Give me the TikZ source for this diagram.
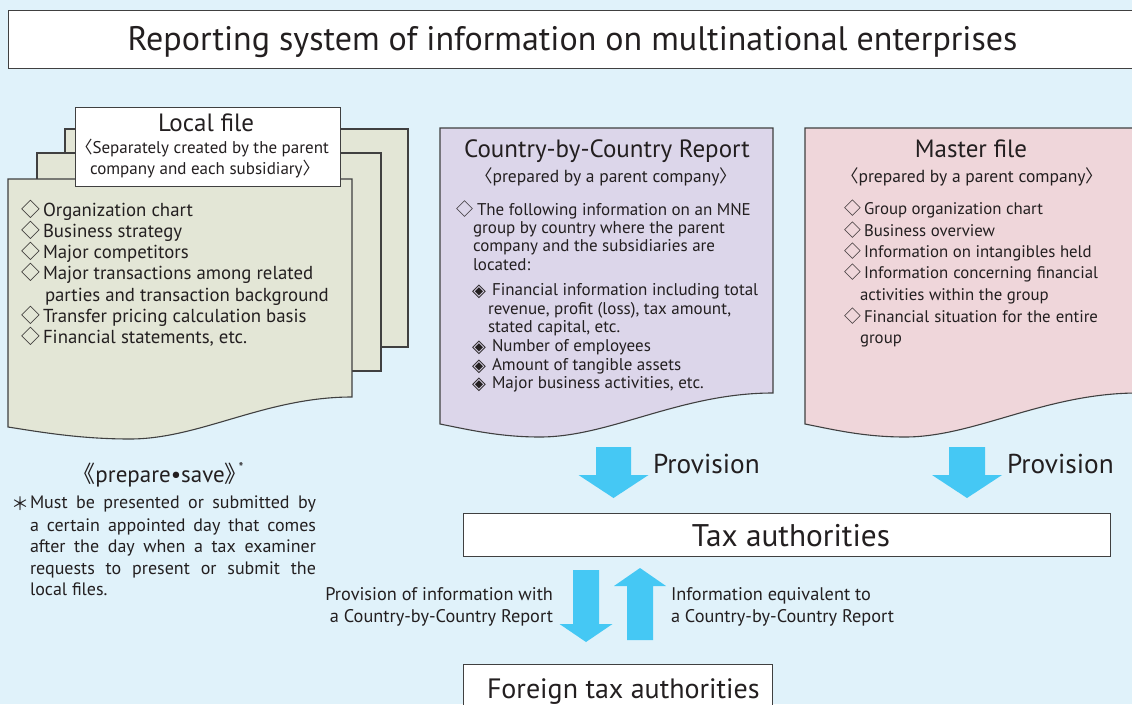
\documentclass[tikz,border=0pt]{standalone}
\usepackage{fontspec}
\setmainfont{PT Sans}
\newfontfamily\cjk{Noto Sans CJK JP}
\newfontfamily\dejavu{DejaVu Sans}
\definecolor{bg}{HTML}{E0F2FA}
\definecolor{lfc}{HTML}{E3E6D6}
\definecolor{cbcc}{HTML}{DCD6EA}
\definecolor{mfc}{HTML}{EFD6DA}
\definecolor{arr}{HTML}{45C8F4}
\definecolor{edge}{HTML}{404040}
\definecolor{txt}{HTML}{231F20}
\newcommand\lbr{\makebox[0.55em][r]{\cjk 〈}}
\newcommand\rbr{\makebox[0.55em][l]{\cjk 〉}}
\newcommand\dia{{\cjk ◇}}
\newcommand\ddia{{\dejavu\fontsize{18}{18}\selectfont ◈}}
\newcommand\blkarrow[7]{% name, cx, start, wing, tip, shafthalf, headhalf
  \fill[arr] (#2-#6,#3) -- (#2+#6,#3) -- (#2+#6,#4) -- (#2+#7,#4) -- (#2,#5) coordinate (#1) -- (#2-#7,#4) -- (#2-#6,#4) -- cycle;}
\tikzset{
  t/.style={inner sep=0pt, outer sep=0pt, anchor=base west, text=txt},
  tc/.style={inner sep=0pt, outer sep=0pt, anchor=base, text=txt},
  tr/.style={inner sep=0pt, outer sep=0pt, anchor=base east, text=txt},
  sheet/.style={draw=edge, line width=1.1pt},
  wbox/.style={draw=edge, line width=1.1pt, fill=white, inner sep=0pt, anchor=north west},
  lfitem/.style={t, font=\fontsize{18.8}{20}\selectfont},
  cbitem/.style={t, font=\fontsize{17}{18}\selectfont},
  mfitem/.style={t, font=\fontsize{16.8}{18}\selectfont},
  head/.style={tc, font=\fontsize{25}{28}\selectfont},
  sub/.style={tc, font=\fontsize{17.5}{19}\selectfont},
  note/.style={t, font=\fontsize{18}{19}\selectfont},
  prov/.style={t, font=\fontsize{27.3}{30}\selectfont},
  small/.style={font=\fontsize{18.3}{19}\selectfont},
}
\begin{document}
\begin{tikzpicture}[x=1pt,y=-1pt]
\useasboundingbox (0,0) rectangle (1132,704);
\clip (0,0) rectangle (1132,704);
\fill[bg] (0,0) rectangle (1132,704);

% title
\node[wbox, minimum width=1140pt, minimum height=58pt] (titlebox) at (8,10) {};
\node[tc, font=\fontsize{34}{38}\selectfont] (title) at (572.5,50) {Reporting system of information on multinational enterprises};

% local file stack
\filldraw[sheet, fill=lfc] (65,129) rectangle (408,347);
\filldraw[sheet, fill=lfc] (37,153) rectangle (381,371);
\filldraw[sheet, fill=lfc] (8,179) -- (352,179) -- (352,397) .. controls (265,397) and (200,439) .. (130,439) .. controls (80,439) and (40,432) .. (8,427) -- cycle;
\node[wbox, minimum width=265pt, minimum height=79pt] (lfbox) at (75,107) {};
\node[head] (lfhead) at (206,131) {Local file};
\node[sub, font=\fontsize{17}{19}\selectfont] (lfsub1) at (206,153) {\lbr Separately created by the parent};
\node[sub, font=\fontsize{17}{19}\selectfont] (lfsub2) at (201,174) {company and each subsidiary\rbr};

\foreach \y/\s [count=\i] in {216/Organization chart, 237/Business strategy, 258/Major competitors, 279/Major transactions among related, 322/Transfer pricing calculation basis, 343/{Financial statements, etc.}} {
  \node[lfitem] (lfd\i) at (21,\y) {\dia};
  \node[lfitem] (lfi\i) at (43,\y) {\s};
}
\node[lfitem] (lfi7) at (45,301) {parties and transaction background};

% CbC report
\filldraw[sheet, fill=cbcc] (440,128) -- (773,128) -- (773,393) .. controls (680,393) and (610,437) .. (540,437) .. controls (500,437) and (470,430) .. (440,424) -- cycle;
\node[head] (cbhead) at (607,157) {Country-by-Country Report};
\node[sub] (cbsub) at (606,182) {\lbr prepared by a parent company\rbr};
\node[cbitem] (cbd1) at (456,215) {\dia};
\node[cbitem] (cbi1) at (477,215) {The following information on an MNE};
\node[cbitem] (cbi2) at (473,233) {group by country where the parent};
\node[cbitem] (cbi3) at (473,251) {company and the subsidiaries are};
\node[cbitem] (cbi4) at (473,270) {located:};
\foreach \y/\s [count=\i] in {295/Financial information including total, 351/Number of employees, 370/Amount of tangible assets, 388/{Major business activities, etc.}} {
  \node[cbitem] (cbdd\i) at (472,\y+1) {\ddia};
  \node[cbitem] (cbj\i) at (492,\y) {\s};
}
\node[cbitem] (cbj5) at (488,314) {revenue, profit (loss), tax amount,};
\node[cbitem] (cbj6) at (488,332) {stated capital, etc.};

% Master file
\filldraw[sheet, fill=mfc, xshift=365pt] (440,128) -- (773,128) -- (773,393) .. controls (680,393) and (610,437) .. (540,437) .. controls (500,437) and (470,430) .. (440,424) -- cycle;
\node[head] (mfhead) at (971,157) {Master file};
\node[sub] (mfsub) at (972,182) {\lbr prepared by a parent company\rbr};
\foreach \y/\s [count=\i] in {214/Group organization chart, 236/Business overview, 257/Information on intangibles held, 278/\makebox[234pt][s]{Information concerning financial}, 322/\makebox[234pt][s]{Financial situation for the entire}} {
  \node[mfitem] (mfd\i) at (844,\y) {\dia};
  \node[mfitem] (mfi\i) at (864,\y) {\s};
}
\node[mfitem] (mfi6) at (860,300) {activities within the group};
\node[mfitem] (mfi7) at (860,343) {group};

% prepare save note
\node[tc, font=\fontsize{23}{26}\selectfont] (prep) at (158,482) {{\cjk 《}prepare\textbullet save\makebox[0.6em][l]{\cjk 》}\raisebox{0.4em}{\fontsize{14}{14}\selectfont *}};
\node[note] (ast) at (11,510) {{\cjk ＊}};
\node[note] (n1) at (30,508) {\makebox[286pt][s]{Must be presented or submitted by}};
\node[note] (n2) at (30,531) {\makebox[286pt][s]{a certain appointed day that comes}};
\node[note] (n3) at (30,552) {\makebox[286pt][s]{after the day when a tax examiner}};
\node[note] (n4) at (30,574) {\makebox[286pt][s]{requests to present or submit the}};
\node[note] (n5) at (30,595) {local files.};

% tax authorities
\node[wbox, minimum width=647pt, minimum height=43pt] (tax) at (463,513) {};
\node[tc, font=\fontsize{31.3}{34}\selectfont] (taxt) at (791,546) {Tax authorities};
\node[wbox, minimum width=309pt, minimum height=60pt] (ftax) at (463,664) {};
\node[t, font=\fontsize{28}{32}\selectfont] (ftaxt) at (487,698) {Foreign tax authorities};

% arrows
\blkarrow{a1}{613.5}{447}{475}{498}{17.5}{35}
\blkarrow{a2}{967}{447}{475}{498}{18}{35}
\node[prov] (p1) at (653,473) {Provision};
\node[prov] (p2) at (1007,473) {Provision};
\blkarrow{a3}{586}{570}{624}{642}{13}{26.5}
\blkarrow{a4}{640}{640}{586}{568}{13}{26}
\node[tr, small] (l1) at (553,600) {Provision of information with};
\node[tr, small] (l2) at (553,622) {a Country-by-Country Report};
\node[t, small] (r1) at (671,600) {Information equivalent to};
\node[t, small] (r2) at (671,622) {a Country-by-Country Report};
\end{tikzpicture}
\end{document}
